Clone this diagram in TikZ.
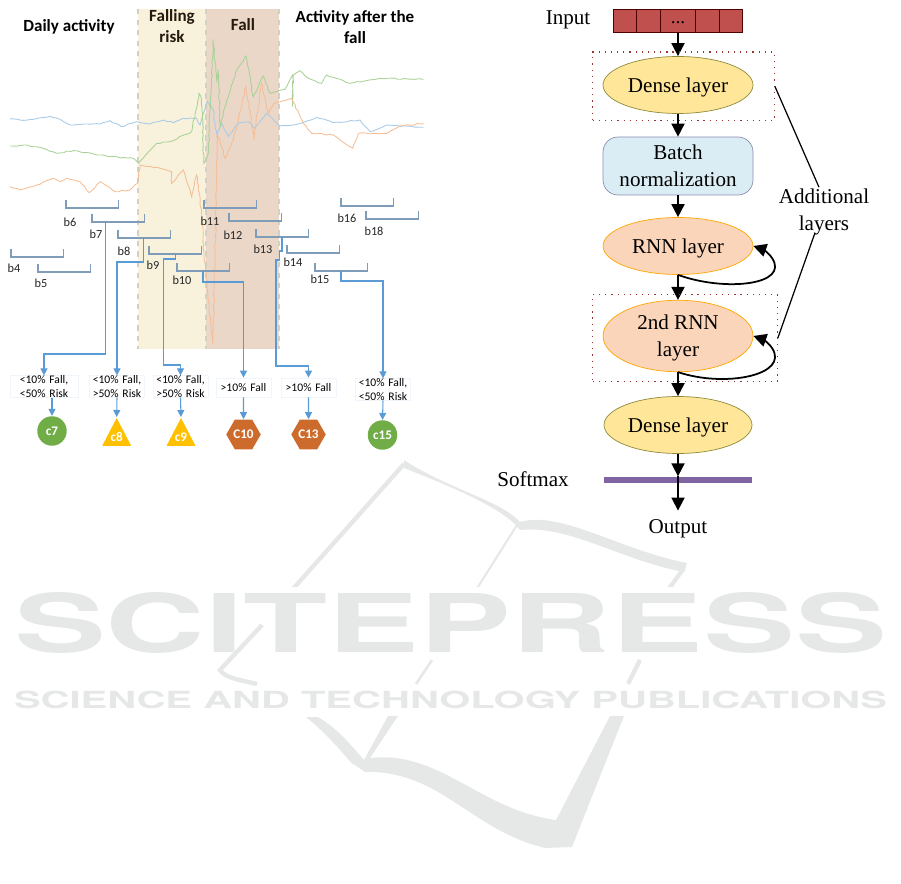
\documentclass[tikz,border=0pt]{standalone}
\usepackage{fontspec}
\setmainfont{Liberation Serif}
\newfontfamily\carl{Carlito}
\newfontfamily\heros{TeX Gyre Heros}
\usetikzlibrary{arrows.meta,shapes.geometric,decorations.pathmorphing}

\definecolor{bandrisk}{HTML}{F8F2DC}
\definecolor{bandfall}{HTML}{EAD7C8}
\definecolor{bandedge}{HTML}{D5D0C4}
\definecolor{sigblue}{HTML}{A8CBE8}
\definecolor{siggreen}{HTML}{AAD298}
\definecolor{sigorange}{HTML}{F6BE96}
\definecolor{brack}{HTML}{7F9DB9}
\definecolor{wire}{HTML}{5B9BD5}
\definecolor{wmark}{HTML}{E6E8E8}
\definecolor{densefill}{HTML}{FFE699}
\definecolor{rnnfill}{HTML}{FBD5B9}
\definecolor{batchfill}{HTML}{DAEDF4}
\definecolor{batchedge}{HTML}{8A8FB0}
\definecolor{inputfill}{HTML}{C0504D}
\definecolor{softfill}{HTML}{8064A2}
\definecolor{classgreen}{HTML}{70AD47}
\definecolor{classyellow}{HTML}{FFC000}
\definecolor{classorange}{HTML}{CC6B2B}

\tikzset{
  title/.style={font=\carl\bfseries\fontsize{9.7}{12}\selectfont,align=center,text=black},
  brlabel/.style={font=\carl\fontsize{7}{8}\selectfont,text=black!85},
  signal/.style={line width=0.5pt,decorate,decoration={random steps,segment length=2pt,amplitude=0.35pt}},
  wirearrow/.style={draw=wire,line width=0.6pt,-{Triangle[length=4pt,width=4pt]}},
  probbox/.style={draw=wire!10,fill=white,inner sep=0pt,text width=1.1cm,minimum height=0.38cm,align=center,
    font=\carl\fontsize{6.6}{7.6}\selectfont},
  classlabel/.style={font=\carl\bfseries\fontsize{7.5}{9}\selectfont,text=white,inner sep=0pt},
  dot/.style={circle,fill=classgreen,minimum size=0.59cm,classlabel},
  tri/.style={isosceles triangle,isosceles triangle stretches,shape border rotate=90,fill=classyellow,
    minimum width=0.58cm,minimum height=0.56cm,anchor=apex,classlabel},
  hexa/.style={regular polygon,regular polygon sides=6,fill=classorange,minimum size=0.69cm,classlabel},
  layer/.style={ellipse,minimum width=3cm,minimum height=1.14cm,inner sep=0pt,align=center,text depth=0pt,
    font=\fontsize{12}{15.2}\selectfont},
  serif/.style={font=\fontsize{12}{15.2}\selectfont,align=center,inner sep=1pt,text depth=0pt},
  flow/.style={line width=1pt,-{Triangle[length=7.4pt,width=7.4pt]}},
  dotbox/.style={draw=red!50!black!80,dash pattern=on 0.7pt off 2.8pt,line width=0.7pt},
}

\begin{document}
\begin{tikzpicture}[x=0.02cm,y=-0.02cm]
\useasboundingbox (0,0) rectangle (901,884);

% watermark
\begin{scope}[wmark]
\fill (404,460) .. controls (450,490) and (500,500) .. (520,522) .. controls (560,510) and (620,550) .. (687,563)
  -- (684,572) .. controls (620,560) and (570,525) .. (520,530) .. controls (505,510) and (460,490) .. (404,468) -- cycle;
\draw[line width=2.5pt] (404,464) -- (292,590);
\draw[line width=1.2pt] (517,525) -- (476,590);
\draw[line width=2.5pt] (684,568) -- (668,590);
\fill[white] (0,587) rectangle (901,660);
\node[inner sep=0pt] (press) at (450.5,623) {\resizebox{17.46cm}{1.2cm}{\heros\bfseries SCITEPRESS}};
\draw[line width=2.5pt] (262,625) -- (220,670) .. controls (225,678) and (240,680) .. (257,684);
\draw[line width=1.5pt] (432,660) -- (416,684);
\draw[line width=2.5pt] (640,660) -- (628,684);
\fill[white] (0,686) rectangle (901,716);
\node[inner sep=0pt] (pub) at (450.5,700) {\resizebox{17.46cm}{0.35cm}{\heros\bfseries SCIENCE AND TECHNOLOGY PUBLICATIONS}};
\fill (306,717) .. controls (340,745) and (350,765) .. (355,765) -- (365,772) .. controls (440,770) and (470,830) .. (545,848)
  -- (572,847) -- (624,716) -- (610,716) -- (556,820) .. controls (480,810) and (440,750) .. (370,758)
  -- (398,716) -- (388,716) -- (364,760) .. controls (355,750) and (340,730) .. (318,717) -- cycle;
\end{scope}

% bands
\fill[bandrisk] (138,9) rectangle (206,349);
\fill[bandfall] (206,9) rectangle (279,349);
\foreach \xb in {138,206,279}
  \draw[bandedge,dashed,line width=0.7pt] (\xb,9) -- (\xb,349);

\node[title] (thdaily) at (69,27) {Daily activity};
\node[title,text=black!80!brown] (thrisk) at (172,26) {Falling\\risk};
\node[title,text=black!80!brown] (thfall) at (243,25) {Fall};
\node[title] (thafter) at (355,27.5) {Activity after the\\fall};

% signals
\begin{scope}[x=0.00667cm,y=-0.00667cm]
\draw[sigblue,signal] (30,357) -- (60,360) -- (100,358) -- (150,349) -- (180,358) -- (210,375) -- (260,372) -- (300,372) -- (330,362) -- (365,380) -- (410,365) -- (450,372) -- (490,360) -- (520,368) -- (550,355) -- (590,355) -- (600,375) -- (622,305) -- (640,330) -- (650,410) -- (665,370) -- (685,410) -- (715,370) -- (745,365) -- (765,385) -- (800,340) -- (840,378) -- (880,375) -- (915,365) -- (950,352) -- (1000,368) -- (1080,360) -- (1110,395) -- (1160,375) -- (1270,382);
\draw[siggreen,signal] (30,438) -- (80,435) -- (130,445) -- (170,460) -- (220,452) -- (280,462) -- (330,470) -- (400,475) -- (415,490) -- (470,430) -- (510,425) -- (575,395) -- (597,280) -- (605,300) -- (612,490) -- (625,460) -- (640,118) -- (650,240) -- (655,210) -- (660,380) -- (675,320) -- (710,210) -- (738,168) -- (760,290) -- (790,228) -- (810,280) -- (855,268) -- (878,225) -- (878,320) -- (880,225) -- (900,212) -- (925,235) -- (965,250) -- (980,225) -- (1050,250) -- (1140,235) -- (1270,238);
\draw[sigorange,signal] (30,560) -- (60,570) -- (110,555) -- (160,535) -- (180,545) -- (200,535) -- (240,545) -- (268,578) -- (300,545) -- (345,575) -- (390,570) -- (412,550) -- (420,495) -- (480,505) -- (515,515) -- (515,550) -- (550,510) -- (575,590) -- (590,525) -- (605,640) -- (612,770) -- (625,900) -- (638,1030) -- (645,800) -- (652,400) -- (660,420) -- (675,475) -- (700,420) -- (738,260) -- (762,415) -- (785,250) -- (805,340) -- (820,312) -- (875,295) -- (910,370) -- (935,400) -- (1000,405) -- (1058,445) -- (1075,400) -- (1160,400) -- (1200,378) -- (1270,370);
\end{scope}

% brackets
\foreach \nm/\xa/\ya/\lx/\ly in {b4/11/249/14/268,b5/38/264/41/283,b6/66/200/70/222,b7/92/214/96/234,
    b8/118/230/124/251,b9/149/246/153/265,b10/177/263/182/280,b11/204/200/210/221,b12/229/213/233/235,
    b13/256/229/263/249,b14/287/245/293/262,b15/315/263/320/279,b16/341/198/347/218,b18/366/211/374/231}
{
  \draw[brack,line width=0.6pt] (\xa,\ya) -- (\xa,\ya+8) -- (\xa+52.5,\ya+8) -- (\xa+52.5,\ya);
  \node[brlabel] (l\nm) at (\lx,\ly) {\nm};
}

\coordinate (t7) at (105.5,222);
\coordinate (t8) at (143.7,238);
\coordinate (t9) at (175.3,254);
\coordinate (t10) at (203,271);
\coordinate (t13) at (282,237);
\coordinate (t15) at (341,271);

% boxes and classes
\node[probbox,text width=1.36cm] (f7) at (44,386.5) {\textless10\% Fall,\\\textless50\% Risk};
\node[probbox] (f8) at (117,386.5) {\textless10\% Fall,\\\textgreater50\% Risk};
\node[probbox] (f9) at (180.5,386.5) {\textless10\% Fall,\\\textgreater50\% Risk};
\node[probbox] (f10) at (243.5,387.5) {\textgreater10\% Fall};
\node[probbox] (f13) at (308.5,387.5) {\textgreater10\% Fall};
\node[probbox] (f15) at (383,389.5) {\textless10\% Fall,\\\textless50\% Risk};

\node[dot] (c7) at (52,431) {c7};
\node[tri] (c8) at (116.7,417) {\raisebox{2pt}{c8}};
\node[tri] (c9) at (181,417) {\raisebox{2pt}{c9}};
\node[hexa] (c10) at (243.5,434.5) {C10};
\node[hexa] (c13) at (308.5,434.5) {C13};
\node[dot] (c15) at (382.5,435) {c15};

\draw[wirearrow] (t7) -- (105.5,354) -- (f7.north |- 0,354) -- (f7.north);
\draw[wirearrow] (t8) -- (143.7,262) -- (f8.north |- 0,262) -- (f8.north);
\draw[wirearrow] (t9) -- (175.3,259) -- (163.7,259) -- (163.7,365) -- (f9.north |- 0,365) -- (f9.north);
\draw[wirearrow] (t10) -- (203,282) -- (f10.north |- 0,282) -- (f10.north);
\draw[wirearrow] (t13) -- (282,251) -- (279.3,251) -- (279.3,260) -- (276,260) -- (276,366) -- (f13.north |- 0,366) -- (f13.north);
\draw[wirearrow] (t15) -- (341,281) -- (f15.north |- 0,281) -- (f15.north);

\draw[wirearrow] (f7.south -| c7.north) -- (c7.north);
\draw[wirearrow] (f8.south) -- (c8.apex);
\draw[wirearrow] (f9.south) -- (c9.apex);
\draw[wirearrow] (f10.south) -- (c10.north);
\draw[wirearrow] (f13.south) -- (c13.north);
\draw[wirearrow] (f15.south) -- (c15.north);

% network
\node[serif] (lblinput) at (568,18) {Input};
\node[draw=black!70!red,fill=inputfill,minimum width=2.58cm,minimum height=0.47cm,inner sep=0pt] (inp) at (678,21) {};
\foreach \xc in {636.7,660.7,695.7,719.7}
  \draw[black!70!red,line width=0.5pt] (\xc,9.3) -- (\xc,32.7);
\node[font=\fontsize{11}{12}\selectfont,inner sep=0pt] (dots) at (678,23) {...};

\node[layer,draw=olive!60!gray,fill=densefill] (dense1) at (678,85) {Dense layer};
\node[draw=batchedge,fill=batchfill,rounded corners=0.3cm,minimum width=3cm,minimum height=1.16cm,serif,inner sep=0pt] (batch) at (678,166) {Batch\\normalization};
\node[layer,draw=orange!70!yellow,fill=rnnfill] (rnn1) at (678,246) {RNN layer};
\node[layer,draw=orange!70!yellow,fill=rnnfill,minimum height=1.43cm] (rnn2) at (678,336) {2nd RNN\\layer};
\node[layer,draw=olive!60!gray,fill=densefill,minimum width=2.96cm] (dense2) at (678,425) {Dense layer};
\node[fill=softfill,minimum width=2.96cm,minimum height=0.12cm,inner sep=0pt] (soft) at (678,479.7) {};
\node[serif] (lblsoft) at (533,479) {Softmax};
\node[serif] (lblout) at (678,526.7) {Output};

\draw[flow] (inp) -- (dense1);
\draw[flow] (dense1) -- (batch);
\draw[flow] (batch) -- (rnn1);
\draw[flow] (rnn1) -- (rnn2);
\draw[flow] (rnn2) -- (dense2);
\draw[flow] (dense2) -- (soft.north);
\draw[flow,shorten >=4pt] (soft.north) -- (lblout);

\draw[flow] (rnn1.south) .. controls (725,292) and (790,285) .. (772,258) .. controls (768,252) and (762,249) .. (rnn1.east);
\draw[flow] (rnn2.south) .. controls (725,388) and (790,375) .. (772,348) .. controls (768,342) and (762,339) .. (rnn2.east);

\node[dotbox,minimum width=3.63cm,minimum height=1.37cm,inner sep=0pt] (extra1) at (683.5,86.3) {};
\node[dotbox,minimum width=3.69cm,minimum height=1.75cm,inner sep=0pt] (extra2) at (685,338) {};

\node[serif] (addl) at (824,210) {Additional\\layers};
\draw[line width=0.7pt] ([xshift=-0.1cm]addl.north) -- (extra1.east);
\draw[line width=0.7pt] ([xshift=-0.18cm]addl.south) -- (extra2.east);

\end{tikzpicture}
\end{document}
